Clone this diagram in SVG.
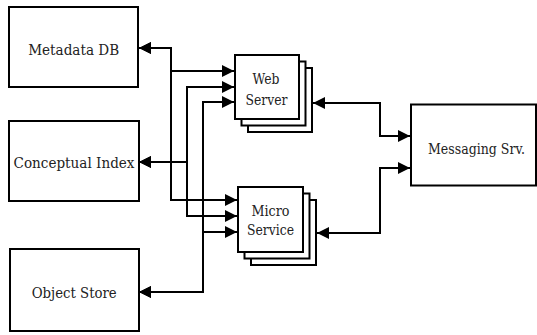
<svg xmlns="http://www.w3.org/2000/svg" width="537" height="335" viewBox="0 0 537 335">
<style>
.box{fill:#fff;stroke:#000;stroke-width:2}
.lbl{font-family:'DejaVu Serif','Noto Serif',serif;font-size:14px;fill:#222;text-anchor:middle}
.con{fill:none;stroke:#000;stroke-width:2;marker-start:url(#ah);marker-end:url(#ah)}
</style>
<defs>
<marker id="ah" markerUnits="userSpaceOnUse" markerWidth="12" markerHeight="12" refX="12" refY="6" orient="auto-start-reverse">
<path d="M0,0 L12,6 L0,12 z" fill="#000"/>
</marker>
</defs>
<rect width="537" height="335" fill="#fff"/>
<g id="connectors">
<path class="con" d="M234,71 H171 V48 H139"/>
<path class="con" d="M237,200 H171 V48 H139"/>
<path class="con" d="M234,87 H187 V162 H139"/>
<path class="con" d="M237,216 H187 V162 H139"/>
<path class="con" d="M234,102 H203 V292 H139"/>
<path class="con" d="M237,232 H203 V292 H139"/>
<path class="con" d="M313,103 H380 V136 H410"/>
<path class="con" d="M317,233 H380 V168 H410"/>
</g>
<g id="metadata-db">
<rect class="box" x="9" y="7" width="129" height="80"/>
<text class="lbl" x="73.7" y="55" textLength="91" lengthAdjust="spacingAndGlyphs">Metadata DB</text>
</g>
<g id="conceptual-index">
<rect class="box" x="9" y="121" width="130" height="80"/>
<text class="lbl" x="74" y="168" textLength="121" lengthAdjust="spacingAndGlyphs">Conceptual Index</text>
</g>
<g id="object-store">
<rect class="box" x="10" y="249" width="129" height="82"/>
<text class="lbl" x="74.2" y="297.5" textLength="85" lengthAdjust="spacingAndGlyphs">Object Store</text>
</g>
<g id="web-server">
<rect class="box" x="248" y="68" width="64" height="64"/>
<rect class="box" x="241.5" y="61.5" width="64" height="64"/>
<rect class="box" x="235" y="55" width="64" height="64"/>
<text class="lbl" x="266" y="83.5" textLength="27" lengthAdjust="spacingAndGlyphs">Web</text>
<text class="lbl" x="266.5" y="104.5" textLength="42" lengthAdjust="spacingAndGlyphs">Server</text>
</g>
<g id="micro-service">
<rect class="box" x="251" y="200" width="65" height="65"/>
<rect class="box" x="244.5" y="193.5" width="65" height="65"/>
<rect class="box" x="238" y="187" width="65" height="65"/>
<text class="lbl" x="270.5" y="215.5" textLength="38" lengthAdjust="spacingAndGlyphs">Micro</text>
<text class="lbl" x="270.5" y="235" textLength="47" lengthAdjust="spacingAndGlyphs">Service</text>
</g>
<g id="messaging-srv">
<rect class="box" x="411" y="104.5" width="125" height="81"/>
<text class="lbl" x="476.5" y="153.5" textLength="97" lengthAdjust="spacingAndGlyphs">Messaging Srv.</text>
</g>
</svg>
